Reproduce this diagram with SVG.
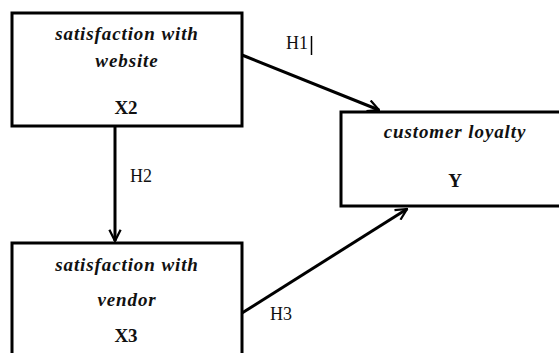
<svg xmlns="http://www.w3.org/2000/svg" width="559" height="353" viewBox="0 0 559 353">
<style>
.box{fill:#fff;stroke:#000;stroke-width:3}
.t{font-family:"Liberation Serif",serif;font-weight:bold;font-style:italic;font-size:19px;letter-spacing:0.9px;fill:#111;text-anchor:middle}
.v{font-family:"Liberation Serif",serif;font-weight:bold;font-size:19px;fill:#111;text-anchor:middle}
.h{font-family:"Liberation Serif",serif;font-size:18px;fill:#111}
.c{stroke:#000;stroke-width:3;fill:none}
</style>
<defs>
<marker id="arr" viewBox="0 0 12 12" refX="11" refY="6" markerWidth="4.5" markerHeight="4.5" orient="auto" markerUnits="strokeWidth">
<path d="M1,1 L11,6 L1,11" fill="none" stroke="#000" stroke-width="2"/>
</marker>
</defs>
<rect width="559" height="353" fill="#fff"/>
<g id="connectors">
<line class="c" x1="242" y1="55" x2="379" y2="110" marker-end="url(#arr)"/>
<line class="c" x1="115" y1="126" x2="115" y2="241" marker-end="url(#arr)"/>
<line class="c" x1="242" y1="313" x2="407" y2="209" marker-end="url(#arr)"/>
<text class="h" x="286" y="49">H1</text>
<line x1="311.5" y1="36" x2="311.5" y2="55" stroke="#000" stroke-width="1.5"/>
<text class="h" x="130" y="182">H2</text>
<text class="h" x="270" y="320">H3</text>
</g>
<g id="x2">
<rect class="box" x="12" y="13" width="230" height="113"/>
<text class="t" x="127" y="40">satisfaction with</text>
<text class="t" x="127" y="67">website</text>
<text class="v" x="126" y="114">X2</text>
</g>
<g id="y">
<rect class="box" x="341" y="112" width="240" height="94"/>
<text class="t" x="455" y="138">customer loyalty</text>
<text class="v" x="455" y="187">Y</text>
</g>
<g id="x3">
<rect class="box" x="12" y="243" width="230" height="130"/>
<text class="t" x="127" y="271">satisfaction with</text>
<text class="t" x="127" y="306">vendor</text>
<text class="v" x="126" y="342">X3</text>
</g>
</svg>
